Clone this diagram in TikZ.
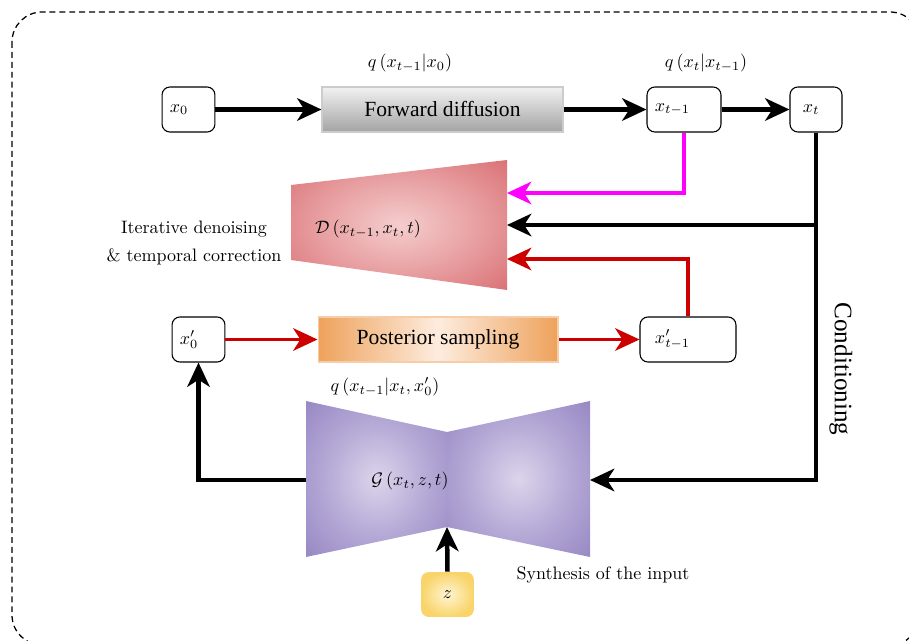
\documentclass[tikz,border=0pt]{standalone}
\usepackage{fontspec}
\newfontfamily\tnr{Liberation Serif}
\usetikzlibrary{arrows.meta,calc}
\definecolor{magline}{HTML}{FF00FF}
\definecolor{redline}{HTML}{CC0000}
\definecolor{fdtop}{HTML}{F2F2F2}
\definecolor{fdbot}{HTML}{A3A3A3}
\definecolor{psedge}{HTML}{EEA25B}
\definecolor{psmid}{HTML}{FDECDF}
\definecolor{psborder}{HTML}{F6CDA6}
\definecolor{dinner}{HTML}{F5CDCD}
\definecolor{dmid}{HTML}{E8A0A2}
\definecolor{douter}{HTML}{D6656A}
\definecolor{ginner}{HTML}{DCD4EB}
\definecolor{gmid}{HTML}{B5A9D6}
\definecolor{gouter}{HTML}{8C7BBC}
\definecolor{zinner}{HTML}{FEF5D3}
\definecolor{zouter}{HTML}{F9D46A}
\pgfdeclareradialshading{dshade}{\pgfpoint{0bp}{0bp}}{color(0bp)=(dinner); color(18bp)=(dmid); color(40bp)=(douter); color(50bp)=(douter)}
\pgfdeclareradialshading{gshade}{\pgfpoint{0bp}{0bp}}{color(0bp)=(ginner); color(18bp)=(gmid); color(42bp)=(gouter); color(50bp)=(gouter)}
\tikzset{
  vbox/.style={draw=black, line width=0.6pt, rounded corners=4.4pt, minimum height=25pt, align=left, fill=white},
  blkarr/.style={line width=2.5pt, draw=black, -{Stealth[length=13.5pt,width=12.5pt,inset=4pt]}},
  redarr/.style={line width=2.1pt, draw=redline, -{Stealth[length=13.5pt,width=12.5pt,inset=4pt]}},
  magarr/.style={line width=2.1pt, draw=magline, -{Stealth[length=13.5pt,width=12.5pt,inset=4pt]}},
  bigtext/.style={font=\tnr\fontsize{12}{14}\selectfont},
}
\begin{document}
\begin{tikzpicture}[x=0.5556pt,y=-0.5556pt]
\useasboundingbox (0,0) rectangle (909,641);
% dashed frame
\draw[line width=0.7pt, dash pattern=on 3.3pt off 2.2pt, rounded corners=16.7pt] (12,12) rectangle (920,645);

% top row
\node[vbox, inner xsep=4.4pt, text width=20.6pt] (x0) at (188.5,109.5) {$x_0$};
\node[draw=gray!40, line width=0.6pt, top color=fdtop, bottom color=fdbot, minimum width=133.9pt, minimum height=25pt, bigtext] (fd) at (442.5,109.5) {Forward diffusion};
\node[vbox, inner xsep=4.4pt, text width=32.3pt] (xtm1) at (684,109.5) {$x_{t-1}$};
\node[vbox, inner xsep=7.2pt, text width=14.5pt] (xt) at (816,109.5) {$x_t$};
\node (q1) at (410,63) {$q\left(x_{t-1}\middle|x_0\right)$};
\node (q2) at (706,63) {$q\left(x_t\middle|x_{t-1}\right)$};

% D trapezoid
\shade[shading=dshade] (291,185) -- (507,160) -- (507,290) -- (291,260) -- cycle;
\node (D) at (368,229) {$\mathcal{D}\left(x_{t-1},x_t,t\right)$};
\coordinate (Dm) at (507,193);
\coordinate (Dc) at (507,225);
\coordinate (Dr) at (507,259);
\node[align=center, font=\fontsize{10}{15.5}\selectfont] (itx) at (194,243) {Iterative denoising\\ \& temporal correction};

% middle row
\node[vbox, inner xsep=4.4pt, text width=20.6pt] (xp0) at (198.5,339.5) {$x'_0$};
\node[draw=psborder, line width=0.6pt, left color=psedge, right color=psedge, middle color=psmid, minimum width=133.3pt, minimum height=25pt, bigtext] (ps) at (438,339.5) {Posterior sampling};
\node[vbox, inner xsep=8.3pt, text width=36.7pt] (xptm1) at (688,339.5) {$x'_{t-1}$};
\node (q3) at (385,387) {$q\left(x_{t-1}\middle|x_t,x'_0\right)$};

% G bowtie
\shade[shading=gshade] (306,401) -- (447,432) -- (447,527) -- (306,557) -- cycle;
\shade[shading=gshade] (447,432) -- (590,401) -- (590,557) -- (447,527) -- cycle;
\node (G) at (410,481) {$\mathcal{G}\left(x_t,z,t\right)$};
\coordinate (Gl) at (306,480);
\coordinate (Gr) at (590,480);
\coordinate (Gb) at (447,527);

% z
\node[shade, inner color=zinner, outer color=zouter, rounded corners=4.4pt, minimum width=29.4pt, minimum height=25pt] (z) at (447.5,594.5) {$z$};
\node (syn) at (603,575) {Synthesis of the input};
\node[rotate=-90, font=\tnr\fontsize{14}{16}\selectfont] (cond) at (841,369) {Conditioning};

% connectors
\draw[blkarr] (x0) -- (fd);
\draw[blkarr] (fd) -- (xtm1);
\draw[blkarr] (xtm1) -- (xt);
\draw[magarr] (xtm1.south) |- (Dm);
\draw[blkarr] (xt.south) |- (Gr);
\draw[blkarr] (xt.south |- Dc) -- (Dc);
\draw[redarr] (xptm1.north) |- (Dr);
\draw[redarr] (xp0) -- (ps);
\draw[redarr] (ps) -- (xptm1);
\draw[blkarr] (Gl) -| (xp0.south);
\draw[blkarr] (z.north) -- (Gb);
\end{tikzpicture}
\end{document}
